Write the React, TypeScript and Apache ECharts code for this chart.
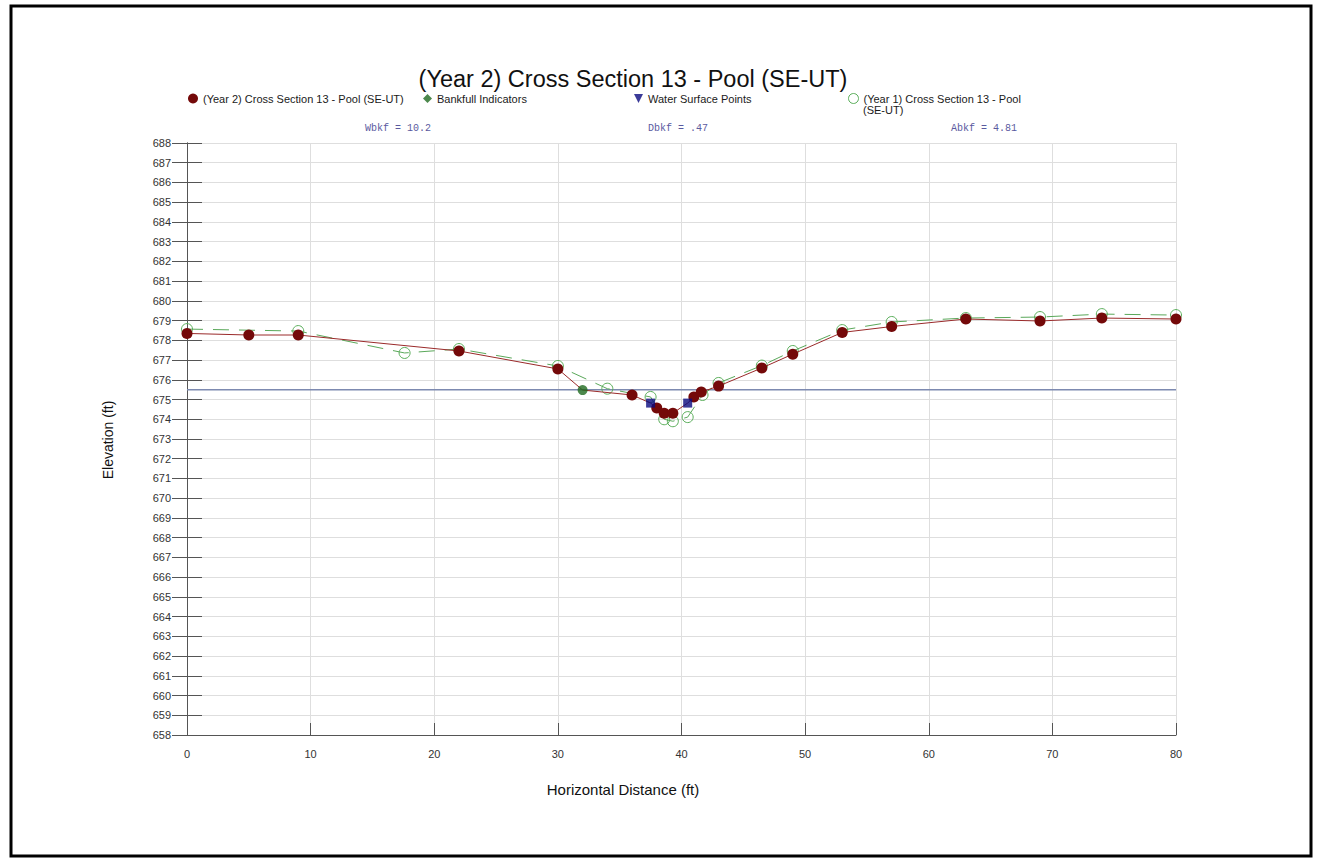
import React, { useEffect, useRef } from "react";
import * as echarts from "echarts";

const titleText = "(Year 2) Cross Section 13 - Pool (SE-UT)";
const y2Name = "(Year 2) Cross Section 13 - Pool (SE-UT)";
const bankfullName = "Bankfull Indicators";
const waterName = "Water Surface Points";
const y1Name = "(Year 1) Cross Section 13 - Pool (SE-UT)";
const y1LegendLine1 = "(Year 1) Cross Section 13 - Pool";
const y1LegendLine2 = "(SE-UT)";
const xAxisTitle = "Horizontal Distance (ft)";
const yAxisTitle = "Elevation (ft)";

const y2Station = [0, 5, 9, 22, 30, 32, 36, 37.5, 38, 38.6, 39.3, 40.5, 41, 41.6, 43, 46.5, 49, 53, 57, 63, 69, 74, 80];
const y2Elev = [678.35, 678.27, 678.27, 677.46, 676.55, 675.48, 675.23, 674.82, 674.57, 674.31, 674.31, 674.82, 675.13, 675.38, 675.68, 676.6, 677.3, 678.4, 678.7, 679.08, 678.98, 679.13, 679.08];

const y1Station = [0, 9, 17.6, 22, 30, 34, 37.5, 38.6, 39.3, 40.5, 41.7, 43, 46.5, 49, 53, 57, 63, 69, 74, 80];
const y1Elev = [678.57, 678.47, 677.36, 677.56, 676.7, 675.55, 675.13, 674.0, 673.9, 674.11, 675.23, 675.84, 676.72, 677.46, 678.52, 678.93, 679.13, 679.18, 679.33, 679.28];

const bankfullStation = [32];
const bankfullElev = [675.48];
const waterStation = [37.5, 40.5];
const waterElev = [674.82, 674.82];
const bankfullLineStation = [0, 80];
const bankfullLineElev = [675.5, 675.5];

const annotationTexts = ["Wbkf = 10.2", "Dbkf = .47", "Abkf = 4.81"];

const FONT = '"Liberation Sans", Arial, sans-serif';
const MONO = '"Liberation Mono", "Courier New", monospace';
const Y1_GREEN = "#5aae5a";

export default function App() {
  const ref = useRef<HTMLDivElement>(null);
  useEffect(() => {
    if (!ref.current) return;
    const chart = echarts.init(ref.current, null, { renderer: "svg" });
    const covered = (x: number) => bankfullStation.includes(x) || waterStation.includes(x);
    const y2Data = y2Station.map((x, i) =>
      covered(x) ? { value: [x, y2Elev[i]], symbolSize: 0 } : { value: [x, y2Elev[i]] }
    );
    const legendBase = {
      orient: "horizontal",
      padding: 0,
      itemWidth: 10,
      itemHeight: 10,
      selectedMode: false,
      textStyle: { fontSize: 11, fontFamily: FONT, color: "#1a1a1a" },
    };
    const option: any = {
      animation: false,
      backgroundColor: "#fff",
      grid: { left: 187, top: 143, width: 989, height: 592, containLabel: false },
      legend: [
        { ...legendBase, left: 188, top: 93, data: [{ name: y2Name, icon: "circle" }] },
        { ...legendBase, left: 423, top: 93, itemWidth: 9, itemHeight: 9, data: [{ name: bankfullName, icon: "diamond" }] },
        { ...legendBase, left: 634, top: 93, itemWidth: 9, itemHeight: 9, data: [{ name: waterName, icon: "path://M0,0L10,0L5,10Z" }] },
        {
          ...legendBase,
          left: 848,
          top: 93,
          data: [
            {
              name: y1Name,
              icon: "circle",
              itemStyle: { color: "rgba(255,255,255,0)", borderColor: Y1_GREEN, borderWidth: 1 },
            },
          ],
          formatter: () => y1LegendLine1,
        },
      ],
      xAxis: {
        type: "value",
        min: 0,
        max: 80,
        interval: 10,
        axisLine: { show: true, onZero: false, lineStyle: { color: "#555", width: 1 } },
        axisTick: { show: true, inside: true, length: 12, lineStyle: { color: "#555" } },
        axisLabel: { margin: 13, fontSize: 11, fontFamily: FONT, color: "#333" },
        splitLine: { show: true, lineStyle: { color: "#dedede", width: 1 } },
      },
      yAxis: [
        {
          type: "value",
          min: 658,
          max: 688,
          interval: 1,
          axisLine: { show: true, onZero: false, lineStyle: { color: "#555", width: 1 } },
          axisTick: { show: true, inside: false, length: 15, lineStyle: { color: "#555" } },
          axisLabel: { margin: 16, fontSize: 11, fontFamily: FONT, color: "#333" },
          splitLine: { show: true, lineStyle: { color: "#dedede", width: 1 } },
        },
        {
          type: "value",
          position: "left",
          min: 658,
          max: 688,
          interval: 1,
          axisLine: { show: true, onZero: false, lineStyle: { color: "#555", width: 1 } },
          axisTick: { show: true, inside: true, length: 15, lineStyle: { color: "#555" } },
          axisLabel: { show: false },
          splitLine: { show: false },
        },
      ],
      series: [
        {
          name: "bankfull-elevation",
          type: "line",
          data: bankfullLineStation.map((x, i) => [x, bankfullLineElev[i]]),
          symbol: "none",
          silent: true,
          lineStyle: { color: "#7d8ab0", width: 1.5 },
          z: 1,
        },
        {
          name: y1Name,
          type: "line",
          data: y1Station.map((x, i) => [x, y1Elev[i]]),
          symbol: "circle",
          symbolSize: 11,
          itemStyle: { color: "rgba(255,255,255,0)", borderColor: Y1_GREEN, borderWidth: 1 },
          lineStyle: { color: "#5aa85a", width: 1, type: [16, 10] },
          z: 2,
        },
        {
          name: y2Name,
          type: "line",
          data: y2Data,
          symbol: "circle",
          symbolSize: 11,
          itemStyle: { color: "#740909" },
          lineStyle: { color: "#9a2a2a", width: 1 },
          z: 3,
        },
        {
          name: bankfullName,
          type: "scatter",
          data: bankfullStation.map((x, i) => [x, bankfullElev[i]]),
          symbol: "circle",
          symbolSize: 10,
          itemStyle: { color: "#1f6a1f" },
          z: 4,
        },
        {
          name: waterName,
          type: "scatter",
          data: waterStation.map((x, i) => [x, waterElev[i]]),
          symbol: "rect",
          symbolSize: 9,
          itemStyle: { color: "#0a0a80" },
          z: 4,
        },
      ],
      graphic: [
        {
          type: "rect",
          shape: { x: 11, y: 6, width: 1300, height: 850 },
          style: { fill: "rgba(0,0,0,0)", stroke: "#000", lineWidth: 3 },
          silent: true,
        },
        {
          type: "text",
          x: 633,
          y: 79,
          style: { text: titleText, fontSize: 23.5, fontFamily: FONT, fill: "#111", align: "center", verticalAlign: "middle" },
        },
        {
          type: "text",
          x: 863,
          y: 110,
          style: { text: y1LegendLine2, fontSize: 11, fontFamily: FONT, fill: "#1a1a1a", align: "left", verticalAlign: "middle" },
        },
        {
          type: "text",
          x: 398,
          y: 128,
          style: { text: annotationTexts[0], fontSize: 10, fontFamily: MONO, fill: "#5a5aa0", align: "center", verticalAlign: "middle" },
        },
        {
          type: "text",
          x: 678,
          y: 128,
          style: { text: annotationTexts[1], fontSize: 10, fontFamily: MONO, fill: "#5a5aa0", align: "center", verticalAlign: "middle" },
        },
        {
          type: "text",
          x: 984,
          y: 128,
          style: { text: annotationTexts[2], fontSize: 10, fontFamily: MONO, fill: "#5a5aa0", align: "center", verticalAlign: "middle" },
        },
        {
          type: "text",
          x: 623,
          y: 789,
          style: { text: xAxisTitle, fontSize: 15, fontFamily: FONT, fill: "#111", align: "center", verticalAlign: "middle" },
        },
        {
          type: "text",
          x: 108,
          y: 440,
          rotation: Math.PI / 2,
          style: { text: yAxisTitle, fontSize: 14, fontFamily: FONT, fill: "#111", align: "center", verticalAlign: "middle" },
        },
      ],
    };
    chart.setOption(option);
    return () => chart.dispose();
  }, []);
  return (
    <div
      ref={ref}
      style={{ position: "absolute", left: 0, top: 0, width: 1323, height: 859, background: "#fff" }}
    />
  );
}
